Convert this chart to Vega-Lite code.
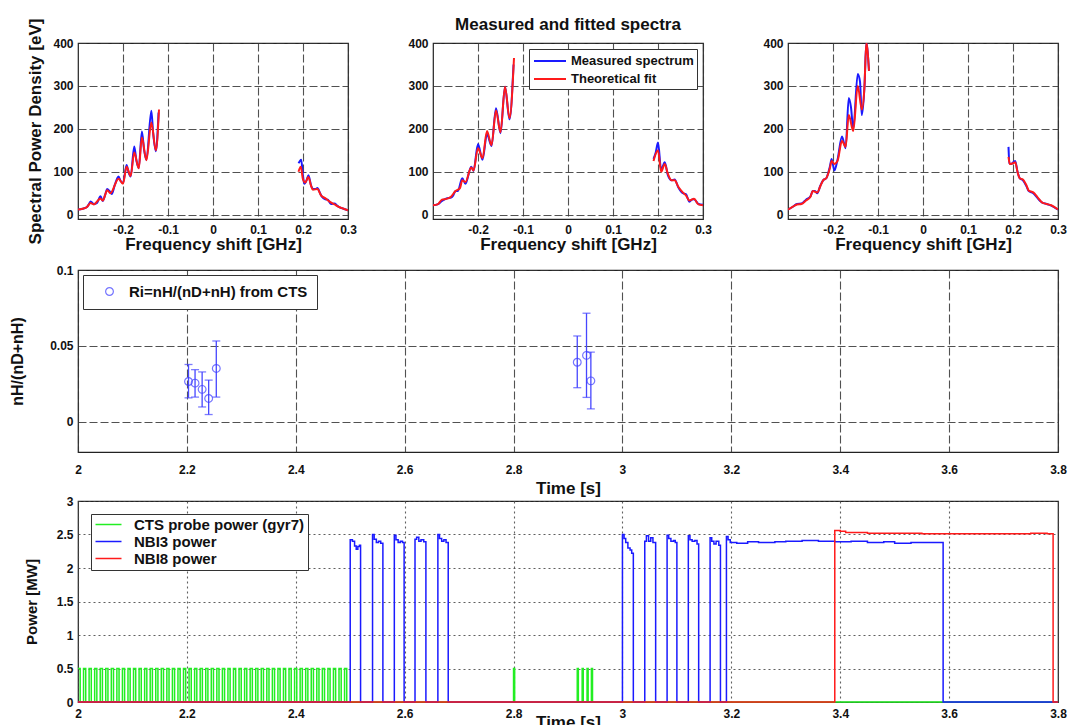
{
  "$schema": "https://vega.github.io/schema/vega-lite/v6.json",
  "background": "white",
  "padding": {"left": 9, "top": 15, "right": 16, "bottom": 4},
  "spacing": 10,
  "config": {
    "font": "Liberation Sans",
    "view": {"stroke": "#222", "strokeWidth": 1.2},
    "axis": {
      "labelFont": "Liberation Sans", "labelFontWeight": "bold", "labelFontSize": 12, "labelColor": "#111",
      "titleFont": "Liberation Sans", "titleFontWeight": "bold", "titleColor": "#111",
      "domain": false, "ticks": false, "labelFlush": false, "labelOverlap": false,
      "gridColor": "#333", "gridDash": [8, 3], "gridWidth": 1.1, "gridOpacity": 0.85, "labelPadding": 5
    },
    "legend": {
      "labelFont": "Liberation Sans", "labelFontWeight": "bold", "labelColor": "#111", "labelLimit": 400,
      "strokeColor": "#333", "fillColor": "white", "title": null
    }
  },
  "datasets": {
    "s1m": [
      {"f": -0.3, "v": 12, "g": "n"}, {"f": -0.29, "v": 14, "g": "n"}, {"f": -0.28, "v": 18, "g": "n"}, {"f": -0.275, "v": 26, "g": "n"},
      {"f": -0.272, "v": 31, "g": "n"}, {"f": -0.265, "v": 25, "g": "n"}, {"f": -0.258, "v": 27, "g": "n"}, {"f": -0.25, "v": 43, "g": "n"},
      {"f": -0.245, "v": 32, "g": "n"}, {"f": -0.24, "v": 45, "g": "n"}, {"f": -0.235, "v": 60, "g": "n"}, {"f": -0.228, "v": 52, "g": "n"},
      {"f": -0.225, "v": 48, "g": "n"}, {"f": -0.218, "v": 70, "g": "n"}, {"f": -0.21, "v": 89, "g": "n"}, {"f": -0.205, "v": 78, "g": "n"},
      {"f": -0.2, "v": 74, "g": "n"}, {"f": -0.192, "v": 116, "g": "n"}, {"f": -0.188, "v": 100, "g": "n"}, {"f": -0.183, "v": 89, "g": "n"},
      {"f": -0.175, "v": 159, "g": "n"}, {"f": -0.17, "v": 125, "g": "n"}, {"f": -0.165, "v": 109, "g": "n"}, {"f": -0.158, "v": 194, "g": "n"},
      {"f": -0.153, "v": 150, "g": "n"}, {"f": -0.148, "v": 128, "g": "n"}, {"f": -0.137, "v": 242, "g": "n"}, {"f": -0.133, "v": 190, "g": "n"},
      {"f": -0.127, "v": 148, "g": "n"}, {"f": -0.121, "v": 238, "g": "n"},
      {"f": 0.19, "v": 120, "g": "p"}, {"f": 0.193, "v": 125, "g": "p"}, {"f": 0.196, "v": 128, "g": "p"}, {"f": 0.2, "v": 90, "g": "p"},
      {"f": 0.203, "v": 72, "g": "p"}, {"f": 0.208, "v": 80, "g": "p"}, {"f": 0.212, "v": 92, "g": "p"}, {"f": 0.218, "v": 68, "g": "p"},
      {"f": 0.222, "v": 60, "g": "p"}, {"f": 0.228, "v": 60, "g": "p"}, {"f": 0.232, "v": 62, "g": "p"}, {"f": 0.238, "v": 50, "g": "p"},
      {"f": 0.242, "v": 42, "g": "p"}, {"f": 0.25, "v": 36, "g": "p"}, {"f": 0.255, "v": 35, "g": "p"}, {"f": 0.262, "v": 25, "g": "p"},
      {"f": 0.27, "v": 26, "g": "p"}, {"f": 0.275, "v": 22, "g": "p"}, {"f": 0.28, "v": 18, "g": "p"}, {"f": 0.29, "v": 14, "g": "p"},
      {"f": 0.3, "v": 10, "g": "p"}
    ],
    "s1f": [
      {"f": -0.3, "v": 12, "g": "n"}, {"f": -0.29, "v": 14, "g": "n"}, {"f": -0.28, "v": 18, "g": "n"}, {"f": -0.272, "v": 27, "g": "n"},
      {"f": -0.265, "v": 24, "g": "n"}, {"f": -0.25, "v": 38, "g": "n"}, {"f": -0.245, "v": 33, "g": "n"}, {"f": -0.235, "v": 57, "g": "n"},
      {"f": -0.228, "v": 50, "g": "n"}, {"f": -0.21, "v": 84, "g": "n"}, {"f": -0.2, "v": 72, "g": "n"}, {"f": -0.192, "v": 112, "g": "n"},
      {"f": -0.183, "v": 90, "g": "n"}, {"f": -0.175, "v": 145, "g": "n"}, {"f": -0.165, "v": 108, "g": "n"}, {"f": -0.158, "v": 180, "g": "n"},
      {"f": -0.148, "v": 127, "g": "n"}, {"f": -0.137, "v": 215, "g": "n"}, {"f": -0.127, "v": 150, "g": "n"}, {"f": -0.12, "v": 245, "g": "n"},
      {"f": 0.19, "v": 100, "g": "p"}, {"f": 0.195, "v": 112, "g": "p"}, {"f": 0.2, "v": 82, "g": "p"}, {"f": 0.205, "v": 75, "g": "p"},
      {"f": 0.212, "v": 88, "g": "p"}, {"f": 0.218, "v": 67, "g": "p"}, {"f": 0.222, "v": 58, "g": "p"}, {"f": 0.232, "v": 60, "g": "p"},
      {"f": 0.24, "v": 45, "g": "p"}, {"f": 0.25, "v": 38, "g": "p"}, {"f": 0.26, "v": 30, "g": "p"}, {"f": 0.27, "v": 24, "g": "p"},
      {"f": 0.28, "v": 18, "g": "p"}, {"f": 0.29, "v": 14, "g": "p"}, {"f": 0.3, "v": 10, "g": "p"}
    ],
    "s2m": [
      {"f": -0.3, "v": 22, "g": "n"}, {"f": -0.29, "v": 24, "g": "n"}, {"f": -0.28, "v": 32, "g": "n"}, {"f": -0.27, "v": 38, "g": "n"},
      {"f": -0.26, "v": 40, "g": "n"}, {"f": -0.255, "v": 45, "g": "n"}, {"f": -0.25, "v": 55, "g": "n"}, {"f": -0.245, "v": 55, "g": "n"},
      {"f": -0.235, "v": 85, "g": "n"}, {"f": -0.228, "v": 72, "g": "n"}, {"f": -0.215, "v": 112, "g": "n"}, {"f": -0.21, "v": 102, "g": "n"},
      {"f": -0.2, "v": 165, "g": "n"}, {"f": -0.19, "v": 128, "g": "n"}, {"f": -0.18, "v": 188, "g": "n"}, {"f": -0.17, "v": 160, "g": "n"},
      {"f": -0.16, "v": 248, "g": "n"}, {"f": -0.15, "v": 190, "g": "n"}, {"f": -0.14, "v": 298, "g": "n"}, {"f": -0.13, "v": 222, "g": "n"},
      {"f": -0.121, "v": 350, "g": "n"},
      {"f": 0.19, "v": 130, "g": "p"}, {"f": 0.195, "v": 145, "g": "p"}, {"f": 0.2, "v": 168, "g": "p"}, {"f": 0.207, "v": 105, "g": "p"},
      {"f": 0.215, "v": 122, "g": "p"}, {"f": 0.222, "v": 92, "g": "p"}, {"f": 0.23, "v": 80, "g": "p"}, {"f": 0.237, "v": 82, "g": "p"},
      {"f": 0.245, "v": 64, "g": "p"}, {"f": 0.255, "v": 50, "g": "p"}, {"f": 0.262, "v": 48, "g": "p"}, {"f": 0.27, "v": 30, "g": "p"},
      {"f": 0.275, "v": 35, "g": "p"}, {"f": 0.28, "v": 36, "g": "p"}, {"f": 0.29, "v": 25, "g": "p"}, {"f": 0.3, "v": 23, "g": "p"}
    ],
    "s2f": [
      {"f": -0.3, "v": 22, "g": "n"}, {"f": -0.29, "v": 24, "g": "n"}, {"f": -0.28, "v": 35, "g": "n"}, {"f": -0.27, "v": 37, "g": "n"},
      {"f": -0.26, "v": 42, "g": "n"}, {"f": -0.25, "v": 55, "g": "n"}, {"f": -0.24, "v": 62, "g": "n"}, {"f": -0.235, "v": 80, "g": "n"},
      {"f": -0.228, "v": 76, "g": "n"}, {"f": -0.215, "v": 110, "g": "n"}, {"f": -0.21, "v": 103, "g": "n"}, {"f": -0.2, "v": 155, "g": "n"},
      {"f": -0.19, "v": 132, "g": "n"}, {"f": -0.18, "v": 195, "g": "n"}, {"f": -0.17, "v": 162, "g": "n"}, {"f": -0.16, "v": 243, "g": "n"},
      {"f": -0.15, "v": 192, "g": "n"}, {"f": -0.14, "v": 298, "g": "n"}, {"f": -0.13, "v": 225, "g": "n"}, {"f": -0.12, "v": 365, "g": "n"},
      {"f": 0.19, "v": 125, "g": "p"}, {"f": 0.2, "v": 150, "g": "p"}, {"f": 0.207, "v": 100, "g": "p"}, {"f": 0.215, "v": 118, "g": "p"},
      {"f": 0.222, "v": 95, "g": "p"}, {"f": 0.23, "v": 80, "g": "p"}, {"f": 0.237, "v": 80, "g": "p"}, {"f": 0.245, "v": 65, "g": "p"},
      {"f": 0.255, "v": 52, "g": "p"}, {"f": 0.262, "v": 45, "g": "p"}, {"f": 0.27, "v": 33, "g": "p"}, {"f": 0.28, "v": 37, "g": "p"},
      {"f": 0.29, "v": 24, "g": "p"}, {"f": 0.3, "v": 22, "g": "p"}
    ],
    "s3m": [
      {"f": -0.3, "v": 12, "g": "n"}, {"f": -0.29, "v": 18, "g": "n"}, {"f": -0.28, "v": 25, "g": "n"}, {"f": -0.27, "v": 26, "g": "n"},
      {"f": -0.26, "v": 35, "g": "n"}, {"f": -0.25, "v": 43, "g": "n"}, {"f": -0.245, "v": 55, "g": "n"}, {"f": -0.24, "v": 55, "g": "n"},
      {"f": -0.235, "v": 50, "g": "n"}, {"f": -0.228, "v": 68, "g": "n"}, {"f": -0.222, "v": 80, "g": "n"}, {"f": -0.215, "v": 85, "g": "n"},
      {"f": -0.207, "v": 112, "g": "n"}, {"f": -0.203, "v": 130, "g": "n"}, {"f": -0.197, "v": 103, "g": "n"}, {"f": -0.19, "v": 128, "g": "n"},
      {"f": -0.18, "v": 182, "g": "n"}, {"f": -0.172, "v": 155, "g": "n"}, {"f": -0.165, "v": 272, "g": "n"}, {"f": -0.16, "v": 250, "g": "n"},
      {"f": -0.155, "v": 200, "g": "n"}, {"f": -0.145, "v": 328, "g": "n"}, {"f": -0.14, "v": 310, "g": "n"}, {"f": -0.136, "v": 232, "g": "n"},
      {"f": -0.13, "v": 300, "g": "n"}, {"f": -0.126, "v": 400, "g": "n"}, {"f": -0.12, "v": 335, "g": "n"},
      {"f": 0.19, "v": 158, "g": "p"}, {"f": 0.192, "v": 120, "g": "p"}, {"f": 0.197, "v": 118, "g": "p"}, {"f": 0.2, "v": 122, "g": "p"},
      {"f": 0.205, "v": 125, "g": "p"}, {"f": 0.21, "v": 100, "g": "p"}, {"f": 0.215, "v": 85, "g": "p"}, {"f": 0.222, "v": 80, "g": "p"},
      {"f": 0.23, "v": 66, "g": "p"}, {"f": 0.235, "v": 55, "g": "p"}, {"f": 0.245, "v": 50, "g": "p"}, {"f": 0.255, "v": 38, "g": "p"},
      {"f": 0.265, "v": 28, "g": "p"}, {"f": 0.275, "v": 25, "g": "p"}, {"f": 0.285, "v": 21, "g": "p"}, {"f": 0.3, "v": 12, "g": "p"}
    ],
    "s3f": [
      {"f": -0.3, "v": 12, "g": "n"}, {"f": -0.29, "v": 18, "g": "n"}, {"f": -0.28, "v": 24, "g": "n"}, {"f": -0.27, "v": 25, "g": "n"},
      {"f": -0.26, "v": 33, "g": "n"}, {"f": -0.25, "v": 42, "g": "n"}, {"f": -0.245, "v": 55, "g": "n"}, {"f": -0.235, "v": 52, "g": "n"},
      {"f": -0.228, "v": 67, "g": "n"}, {"f": -0.222, "v": 80, "g": "n"}, {"f": -0.215, "v": 85, "g": "n"}, {"f": -0.207, "v": 108, "g": "n"},
      {"f": -0.203, "v": 125, "g": "n"}, {"f": -0.197, "v": 118, "g": "n"}, {"f": -0.19, "v": 125, "g": "n"}, {"f": -0.18, "v": 172, "g": "n"},
      {"f": -0.172, "v": 158, "g": "n"}, {"f": -0.165, "v": 232, "g": "n"}, {"f": -0.155, "v": 195, "g": "n"}, {"f": -0.145, "v": 300, "g": "n"},
      {"f": -0.136, "v": 245, "g": "n"}, {"f": -0.13, "v": 300, "g": "n"}, {"f": -0.126, "v": 400, "g": "n"}, {"f": -0.12, "v": 335, "g": "n"},
      {"f": 0.19, "v": 135, "g": "p"}, {"f": 0.193, "v": 118, "g": "p"}, {"f": 0.2, "v": 120, "g": "p"}, {"f": 0.205, "v": 122, "g": "p"},
      {"f": 0.21, "v": 100, "g": "p"}, {"f": 0.215, "v": 85, "g": "p"}, {"f": 0.222, "v": 82, "g": "p"}, {"f": 0.23, "v": 68, "g": "p"},
      {"f": 0.235, "v": 56, "g": "p"}, {"f": 0.245, "v": 52, "g": "p"}, {"f": 0.255, "v": 40, "g": "p"}, {"f": 0.265, "v": 28, "g": "p"},
      {"f": 0.275, "v": 25, "g": "p"}, {"f": 0.285, "v": 22, "g": "p"}, {"f": 0.3, "v": 12, "g": "p"}
    ],
    "ratio": [
      {"t": 2.203, "r": 0.0265, "lo": 0.0157, "hi": 0.0377},
      {"t": 2.215, "r": 0.0254, "lo": 0.0162, "hi": 0.0343},
      {"t": 2.228, "r": 0.0213, "lo": 0.0097, "hi": 0.0328},
      {"t": 2.24, "r": 0.0153, "lo": 0.0047, "hi": 0.0274},
      {"t": 2.254, "r": 0.0351, "lo": 0.0162, "hi": 0.0532},
      {"t": 2.917, "r": 0.0392, "lo": 0.0224, "hi": 0.0565},
      {"t": 2.934, "r": 0.0437, "lo": 0.016, "hi": 0.0715},
      {"t": 2.942, "r": 0.0269, "lo": 0.0084, "hi": 0.0459}
    ],
    "cts": [
      {"t": 2.0, "P": 0.5}, {"t": 2.004, "P": 0}, {"t": 2.0102, "P": 0.5}, {"t": 2.0142, "P": 0},
      {"t": 2.0204, "P": 0.5}, {"t": 2.0244, "P": 0}, {"t": 2.0306, "P": 0.5}, {"t": 2.0346, "P": 0},
      {"t": 2.0408, "P": 0.5}, {"t": 2.0448, "P": 0}, {"t": 2.051, "P": 0.5}, {"t": 2.055, "P": 0},
      {"t": 2.0612, "P": 0.5}, {"t": 2.0652, "P": 0}, {"t": 2.0714, "P": 0.5}, {"t": 2.0754, "P": 0},
      {"t": 2.0816, "P": 0.5}, {"t": 2.0856, "P": 0}, {"t": 2.0918, "P": 0.5}, {"t": 2.0958, "P": 0},
      {"t": 2.102, "P": 0.5}, {"t": 2.106, "P": 0}, {"t": 2.1122, "P": 0.5}, {"t": 2.1162, "P": 0},
      {"t": 2.1224, "P": 0.5}, {"t": 2.1264, "P": 0}, {"t": 2.1326, "P": 0.5}, {"t": 2.1366, "P": 0},
      {"t": 2.1428, "P": 0.5}, {"t": 2.1468, "P": 0}, {"t": 2.153, "P": 0.5}, {"t": 2.157, "P": 0},
      {"t": 2.1632, "P": 0.5}, {"t": 2.1672, "P": 0}, {"t": 2.1734, "P": 0.5}, {"t": 2.1774, "P": 0},
      {"t": 2.1836, "P": 0.5}, {"t": 2.1876, "P": 0}, {"t": 2.1938, "P": 0.5}, {"t": 2.1978, "P": 0},
      {"t": 2.204, "P": 0.5}, {"t": 2.208, "P": 0}, {"t": 2.2142, "P": 0.5}, {"t": 2.2182, "P": 0},
      {"t": 2.2244, "P": 0.5}, {"t": 2.2284, "P": 0}, {"t": 2.2346, "P": 0.5}, {"t": 2.2386, "P": 0},
      {"t": 2.2448, "P": 0.5}, {"t": 2.2488, "P": 0}, {"t": 2.255, "P": 0.5}, {"t": 2.259, "P": 0},
      {"t": 2.2652, "P": 0.5}, {"t": 2.2692, "P": 0}, {"t": 2.2754, "P": 0.5}, {"t": 2.2794, "P": 0},
      {"t": 2.2856, "P": 0.5}, {"t": 2.2896, "P": 0}, {"t": 2.2958, "P": 0.5}, {"t": 2.2998, "P": 0},
      {"t": 2.306, "P": 0.5}, {"t": 2.31, "P": 0}, {"t": 2.3162, "P": 0.5}, {"t": 2.3202, "P": 0},
      {"t": 2.3264, "P": 0.5}, {"t": 2.3304, "P": 0}, {"t": 2.3366, "P": 0.5}, {"t": 2.3406, "P": 0},
      {"t": 2.3468, "P": 0.5}, {"t": 2.3508, "P": 0}, {"t": 2.357, "P": 0.5}, {"t": 2.361, "P": 0},
      {"t": 2.3672, "P": 0.5}, {"t": 2.3712, "P": 0}, {"t": 2.3774, "P": 0.5}, {"t": 2.3814, "P": 0},
      {"t": 2.3876, "P": 0.5}, {"t": 2.3916, "P": 0}, {"t": 2.3978, "P": 0.5}, {"t": 2.4018, "P": 0},
      {"t": 2.408, "P": 0.5}, {"t": 2.412, "P": 0}, {"t": 2.4182, "P": 0.5}, {"t": 2.4222, "P": 0},
      {"t": 2.4284, "P": 0.5}, {"t": 2.4324, "P": 0}, {"t": 2.4386, "P": 0.5}, {"t": 2.4426, "P": 0},
      {"t": 2.4488, "P": 0.5}, {"t": 2.4528, "P": 0}, {"t": 2.459, "P": 0.5}, {"t": 2.463, "P": 0},
      {"t": 2.4692, "P": 0.5}, {"t": 2.4732, "P": 0}, {"t": 2.4794, "P": 0.5}, {"t": 2.4834, "P": 0},
      {"t": 2.4896, "P": 0.5}, {"t": 2.4936, "P": 0},
      {"t": 2.8, "P": 0.5}, {"t": 2.802, "P": 0},
      {"t": 2.917, "P": 0.5}, {"t": 2.919, "P": 0}, {"t": 2.926, "P": 0.5}, {"t": 2.928, "P": 0},
      {"t": 2.935, "P": 0.5}, {"t": 2.937, "P": 0}, {"t": 2.943, "P": 0.5}, {"t": 2.945, "P": 0},
      {"t": 3.8, "P": 0}
    ],
    "nbi3": [
      {"t": 2.0, "P": 0},
      {"t": 2.5, "P": 2.42}, {"t": 2.504, "P": 2.4}, {"t": 2.508, "P": 2.33}, {"t": 2.511, "P": 2.28}, {"t": 2.514, "P": 2.32}, {"t": 2.517, "P": 2.34}, {"t": 2.519, "P": 0},
      {"t": 2.541, "P": 2.5}, {"t": 2.544, "P": 2.43}, {"t": 2.548, "P": 2.38}, {"t": 2.552, "P": 2.4}, {"t": 2.556, "P": 2.37}, {"t": 2.56, "P": 0},
      {"t": 2.581, "P": 2.49}, {"t": 2.584, "P": 2.42}, {"t": 2.588, "P": 2.38}, {"t": 2.592, "P": 2.4}, {"t": 2.596, "P": 2.38}, {"t": 2.599, "P": 0},
      {"t": 2.619, "P": 2.43}, {"t": 2.622, "P": 2.46}, {"t": 2.626, "P": 2.4}, {"t": 2.63, "P": 2.42}, {"t": 2.635, "P": 2.39}, {"t": 2.639, "P": 0},
      {"t": 2.661, "P": 2.5}, {"t": 2.664, "P": 2.44}, {"t": 2.668, "P": 2.4}, {"t": 2.672, "P": 2.42}, {"t": 2.676, "P": 2.38}, {"t": 2.68, "P": 0},
      {"t": 3.0, "P": 2.5}, {"t": 3.003, "P": 2.44}, {"t": 3.006, "P": 2.38}, {"t": 3.01, "P": 2.3}, {"t": 3.014, "P": 2.27}, {"t": 3.017, "P": 2.22}, {"t": 3.02, "P": 0},
      {"t": 3.041, "P": 2.4}, {"t": 3.044, "P": 2.48}, {"t": 3.048, "P": 2.4}, {"t": 3.052, "P": 2.45}, {"t": 3.056, "P": 2.38}, {"t": 3.061, "P": 0},
      {"t": 3.082, "P": 2.49}, {"t": 3.085, "P": 2.44}, {"t": 3.089, "P": 2.4}, {"t": 3.094, "P": 2.41}, {"t": 3.097, "P": 2.38}, {"t": 3.1, "P": 0},
      {"t": 3.121, "P": 2.48}, {"t": 3.124, "P": 2.42}, {"t": 3.128, "P": 2.4}, {"t": 3.133, "P": 2.41}, {"t": 3.137, "P": 2.36}, {"t": 3.14, "P": 0},
      {"t": 3.161, "P": 2.45}, {"t": 3.164, "P": 2.4}, {"t": 3.168, "P": 2.36}, {"t": 3.172, "P": 2.4}, {"t": 3.177, "P": 2.34}, {"t": 3.18, "P": 0},
      {"t": 3.191, "P": 2.47}, {"t": 3.194, "P": 2.42}, {"t": 3.198, "P": 2.38}, {"t": 3.21, "P": 2.37}, {"t": 3.23, "P": 2.39}, {"t": 3.25, "P": 2.38},
      {"t": 3.28, "P": 2.39}, {"t": 3.3, "P": 2.4}, {"t": 3.33, "P": 2.41}, {"t": 3.36, "P": 2.4}, {"t": 3.39, "P": 2.39}, {"t": 3.42, "P": 2.4},
      {"t": 3.45, "P": 2.38}, {"t": 3.48, "P": 2.39}, {"t": 3.5, "P": 2.37}, {"t": 3.53, "P": 2.38}, {"t": 3.56, "P": 2.38}, {"t": 3.589, "P": 0},
      {"t": 3.8, "P": 0}
    ],
    "nbi8": [
      {"t": 2.0, "P": 0}, {"t": 3.39, "P": 2.56}, {"t": 3.4, "P": 2.55}, {"t": 3.41, "P": 2.53}, {"t": 3.45, "P": 2.52},
      {"t": 3.5, "P": 2.52}, {"t": 3.55, "P": 2.51}, {"t": 3.6, "P": 2.51}, {"t": 3.7, "P": 2.51}, {"t": 3.75, "P": 2.52},
      {"t": 3.78, "P": 2.51}, {"t": 3.791, "P": 0}, {"t": 3.8, "P": 0}
    ]
  },
  "vconcat": [
    {
      "hconcat": [
        {
          "width": 270, "height": 176,
          "encoding": {
            "x": {"field": "f", "type": "quantitative", "scale": {"domain": [-0.3, 0.3], "nice": false},
                  "axis": {"values": [-0.2, -0.1, 0, 0.1, 0.2, 0.3], "labelExpr": "'' + datum.value", "title": "Frequency shift [GHz]", "titleFontSize": 17, "titlePadding": 1}},
            "y": {"field": "v", "type": "quantitative", "scale": {"domain": [-10, 400], "nice": false},
                  "axis": {"values": [0, 100, 200, 300, 400], "title": "Spectral Power Density [eV]", "titleFontSize": 17, "titlePadding": 8}},
            "detail": {"field": "g"}
          },
          "layer": [
            {
              "data": {"name": "s1m"},
              "mark": {"type": "line", "strokeWidth": 2, "clip": true, "interpolate": "monotone"},
              "encoding": {
                "color": {"datum": "Measured spectrum", "scale": {"domain": ["Measured spectrum", "Theoretical fit"], "range": ["#1a1aff", "#ff1a1a"]}, "legend": null}
              }
            },
            {
              "data": {"name": "s1f"},
              "mark": {"type": "line", "strokeWidth": 2, "clip": true, "interpolate": "monotone"},
              "encoding": {"color": {"datum": "Theoretical fit", "legend": null}}
            }
          ]
        },
        {
          "width": 270, "height": 176,
          "title": {"text": "Measured and fitted spectra", "fontSize": 17, "fontWeight": "bold", "font": "Liberation Sans", "color": "#111", "offset": 3},
          "encoding": {
            "x": {"field": "f", "type": "quantitative", "scale": {"domain": [-0.3, 0.3], "nice": false},
                  "axis": {"values": [-0.2, -0.1, 0, 0.1, 0.2, 0.3], "labelExpr": "'' + datum.value", "title": "Frequency shift [GHz]", "titleFontSize": 17, "titlePadding": 1}},
            "y": {"field": "v", "type": "quantitative", "scale": {"domain": [-10, 400], "nice": false},
                  "axis": {"values": [0, 100, 200, 300, 400], "title": null}},
            "detail": {"field": "g"}
          },
          "layer": [
            {
              "data": {"name": "s2m"},
              "mark": {"type": "line", "strokeWidth": 2, "clip": true, "interpolate": "monotone"},
              "encoding": {
                "color": {"datum": "Measured spectrum", "scale": {"domain": ["Measured spectrum", "Theoretical fit"], "range": ["#1a1aff", "#ff1a1a"]},
                          "legend": {"orient": "top-right", "offset": 6, "labelFontSize": 13, "symbolType": "M-2,0H2", "symbolSize": 256, "symbolStrokeWidth": 2, "symbolOffset": 9, "padding": 3, "rowPadding": 2, "labelOffset": 12, "cornerRadius": 0}}
              }
            },
            {
              "data": {"name": "s2f"},
              "mark": {"type": "line", "strokeWidth": 2, "clip": true, "interpolate": "monotone"},
              "encoding": {"color": {"datum": "Theoretical fit"}}
            }
          ]
        },
        {
          "width": 270, "height": 176,
          "encoding": {
            "x": {"field": "f", "type": "quantitative", "scale": {"domain": [-0.3, 0.3], "nice": false},
                  "axis": {"values": [-0.2, -0.1, 0, 0.1, 0.2, 0.3], "labelExpr": "'' + datum.value", "title": "Frequency shift [GHz]", "titleFontSize": 17, "titlePadding": 1}},
            "y": {"field": "v", "type": "quantitative", "scale": {"domain": [-10, 400], "nice": false},
                  "axis": {"values": [0, 100, 200, 300, 400], "title": null}},
            "detail": {"field": "g"}
          },
          "layer": [
            {
              "data": {"name": "s3m"},
              "mark": {"type": "line", "strokeWidth": 2, "clip": true, "interpolate": "monotone"},
              "encoding": {
                "color": {"datum": "Measured spectrum", "scale": {"domain": ["Measured spectrum", "Theoretical fit"], "range": ["#1a1aff", "#ff1a1a"]}, "legend": null}
              }
            },
            {
              "data": {"name": "s3f"},
              "mark": {"type": "line", "strokeWidth": 2, "clip": true, "interpolate": "monotone"},
              "encoding": {"color": {"datum": "Theoretical fit", "legend": null}}
            }
          ]
        }
      ],
      "spacing": 85,
      "bounds": "flush",
      "resolve": {"scale": {"color": "independent"}, "legend": {"color": "independent"}}
    },
    {
      "vconcat": [
        {
          "width": 980, "height": 182,
          "data": {"name": "ratio"},
          "layer": [
            {
              "mark": {"type": "errorbar", "ticks": {"size": 8}, "color": "#4646ff", "thickness": 1.3},
              "encoding": {
                "x": {"field": "t", "type": "quantitative", "scale": {"domain": [2, 3.8], "nice": false},
                      "axis": {"values": [2, 2.2, 2.4, 2.6, 2.8, 3, 3.2, 3.4, 3.6, 3.8], "labelExpr": "'' + datum.value", "title": "Time [s]", "titleFontSize": 17, "labelPadding": 12, "titlePadding": 5}},
                "y": {"field": "lo", "type": "quantitative", "scale": {"domain": [-0.02, 0.1], "nice": false},
                      "axis": {"values": [0, 0.05, 0.1], "labelExpr": "'' + datum.value", "title": "nH/(nD+nH)", "titleFontSize": 16, "titlePadding": 24}},
                "y2": {"field": "hi"}
              }
            },
            {
              "mark": {"type": "point", "shape": "circle", "filled": false, "size": 60, "strokeWidth": 1.2},
              "encoding": {
                "x": {"field": "t", "type": "quantitative"},
                "y": {"field": "r", "type": "quantitative"},
                "color": {"datum": "Ri=nH/(nD+nH) from CTS", "scale": {"range": ["#3c3cff"]},
                          "legend": {"orient": "top-left", "offset": 5, "labelFontSize": 15, "symbolType": "circle", "symbolSize": 60, "symbolStrokeWidth": 1.2, "symbolOffset": 10, "padding": 9, "labelOffset": 12, "cornerRadius": 0}}
              }
            }
          ]
        },
        {
          "width": 980, "height": 201,
          "encoding": {
            "x": {"field": "t", "type": "quantitative", "scale": {"domain": [2, 3.8], "nice": false},
                  "axis": {"values": [2, 2.2, 2.4, 2.6, 2.8, 3, 3.2, 3.4, 3.6, 3.8], "labelExpr": "'' + datum.value", "title": "Time [s]", "titleFontSize": 17, "labelPadding": 6, "titlePadding": -5, "gridDash": [2, 3], "gridColor": "#444"}},
            "y": {"field": "P", "type": "quantitative", "scale": {"domain": [0, 3], "nice": false},
                  "axis": {"values": [0, 0.5, 1, 1.5, 2, 2.5, 3], "labelExpr": "'' + datum.value", "title": "Power [MW]", "titleFontSize": 15, "titlePadding": 17, "gridDash": [2, 3], "gridColor": "#444"}}
          },
          "layer": [
            {
              "data": {"name": "cts"},
              "mark": {"type": "line", "interpolate": "step-after", "strokeWidth": 1.5},
              "encoding": {
                "color": {"datum": "CTS probe power (gyr7)", "scale": {"domain": ["CTS probe power (gyr7)", "NBI3 power", "NBI8 power"], "range": ["#22ee22", "#1a1aff", "#ff1a1a"]},
                          "legend": {"orient": "top-left", "offset": 13, "labelFontSize": 15, "symbolType": "M-2,0H2", "symbolSize": 169, "symbolStrokeWidth": 1.5, "symbolOffset": 7, "padding": 3, "rowPadding": 1, "labelOffset": 18, "cornerRadius": 0}}
              }
            },
            {
              "data": {"name": "nbi3"},
              "mark": {"type": "line", "interpolate": "step-after", "strokeWidth": 1.5},
              "encoding": {"color": {"datum": "NBI3 power"}}
            },
            {
              "data": {"name": "nbi8"},
              "mark": {"type": "line", "interpolate": "step-after", "strokeWidth": 1.5},
              "encoding": {"color": {"datum": "NBI8 power"}}
            }
          ]
        }
      ],
      "spacing": 49,
      "bounds": "flush",
      "resolve": {"scale": {"color": "independent"}, "legend": {"color": "independent"}}
    }
  ],
  "resolve": {"scale": {"color": "independent"}, "legend": {"color": "independent"}}
}
